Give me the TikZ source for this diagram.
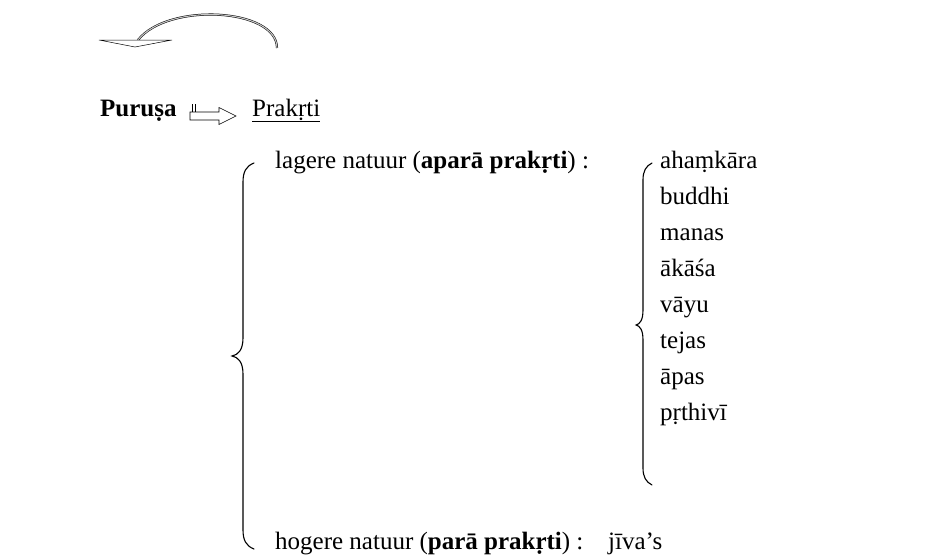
\documentclass[tikz,border=0pt]{standalone}
\usepackage{fontspec}
\setmainfont{Liberation Serif}
\begin{document}
\begin{tikzpicture}[x=1pt,y=-1pt,
  txt/.style={anchor=base west,inner sep=0pt,font=\fontsize{25}{30}\selectfont},
  brace/.style={line width=1.1pt,line cap=round},
  blockarrow/.style={draw,line width=0.6pt,fill=white}]
\useasboundingbox (0,0) rectangle (930,557);
% curved arrow
\coordinate (cs) at (277,48);
\coordinate (ce) at (138,40);
\draw[line width=0.5pt,double=gray!45,double distance=1.1pt]
  (cs) .. controls (277,8) and (168,2) .. (ce);
\draw[blockarrow,line width=0.5pt] (99,40) -- (172,40) -- (135,47) -- cycle;
% top row
\node[txt] (purusa) at (100,116) {\textbf{Puruṣa}};
\node[txt] (prakrti) at (252,116) {\underline{Prakṛti}};
\coordinate (ba) at (190,108);
\draw[blockarrow] ([yshift=-4]ba) -- ++(29,0) -- ++(0,-4.5) -- ++(17,8.5) -- ++(-17,8.5) -- ++(0,-4.5) -- ++(-29,0) -- cycle;
\draw[line width=0.5pt] ([shift={(2.5,-4)}]ba) -- ++(0,8) ([shift={(5,-4)}]ba) -- ++(0,8);
% big brace
\draw[brace] (254,163) .. controls (246,166) and (243,172) .. (243,182)
  -- (243,338) .. controls (243,350) and (238,355) .. (232,356)
  .. controls (238,357) and (243,362) .. (243,374)
  -- (243,530) .. controls (243,540) and (246,546) .. (254,549);
\node[txt] (lager) at (275,168) {lagere natuur (\textbf{aparā prakṛti}) :};
\node[txt] (hoger) at (275,549) {hogere natuur (\textbf{parā prakṛti}) :};
\node[txt] (jiva) at (608,549) {jīva’s};
% small brace
\draw[brace] (652,163) .. controls (646,166) and (643,171) .. (643,180)
  -- (643,310) .. controls (643,320) and (640,324) .. (636,325)
  .. controls (640,326) and (643,330) .. (643,340)
  -- (643,468) .. controls (643,477) and (646,482) .. (652,485);
\node[txt] (a1) at (660,168) {ahaṃkāra};
\node[txt] (a2) at (660,204) {buddhi};
\node[txt] (a3) at (660,240) {manas};
\node[txt] (a4) at (660,276) {ākāśa};
\node[txt] (a5) at (660,312) {vāyu};
\node[txt] (a6) at (660,348) {tejas};
\node[txt] (a7) at (660,384) {āpas};
\node[txt] (a8) at (660,420) {pṛthivī};
\end{tikzpicture}
\end{document}
